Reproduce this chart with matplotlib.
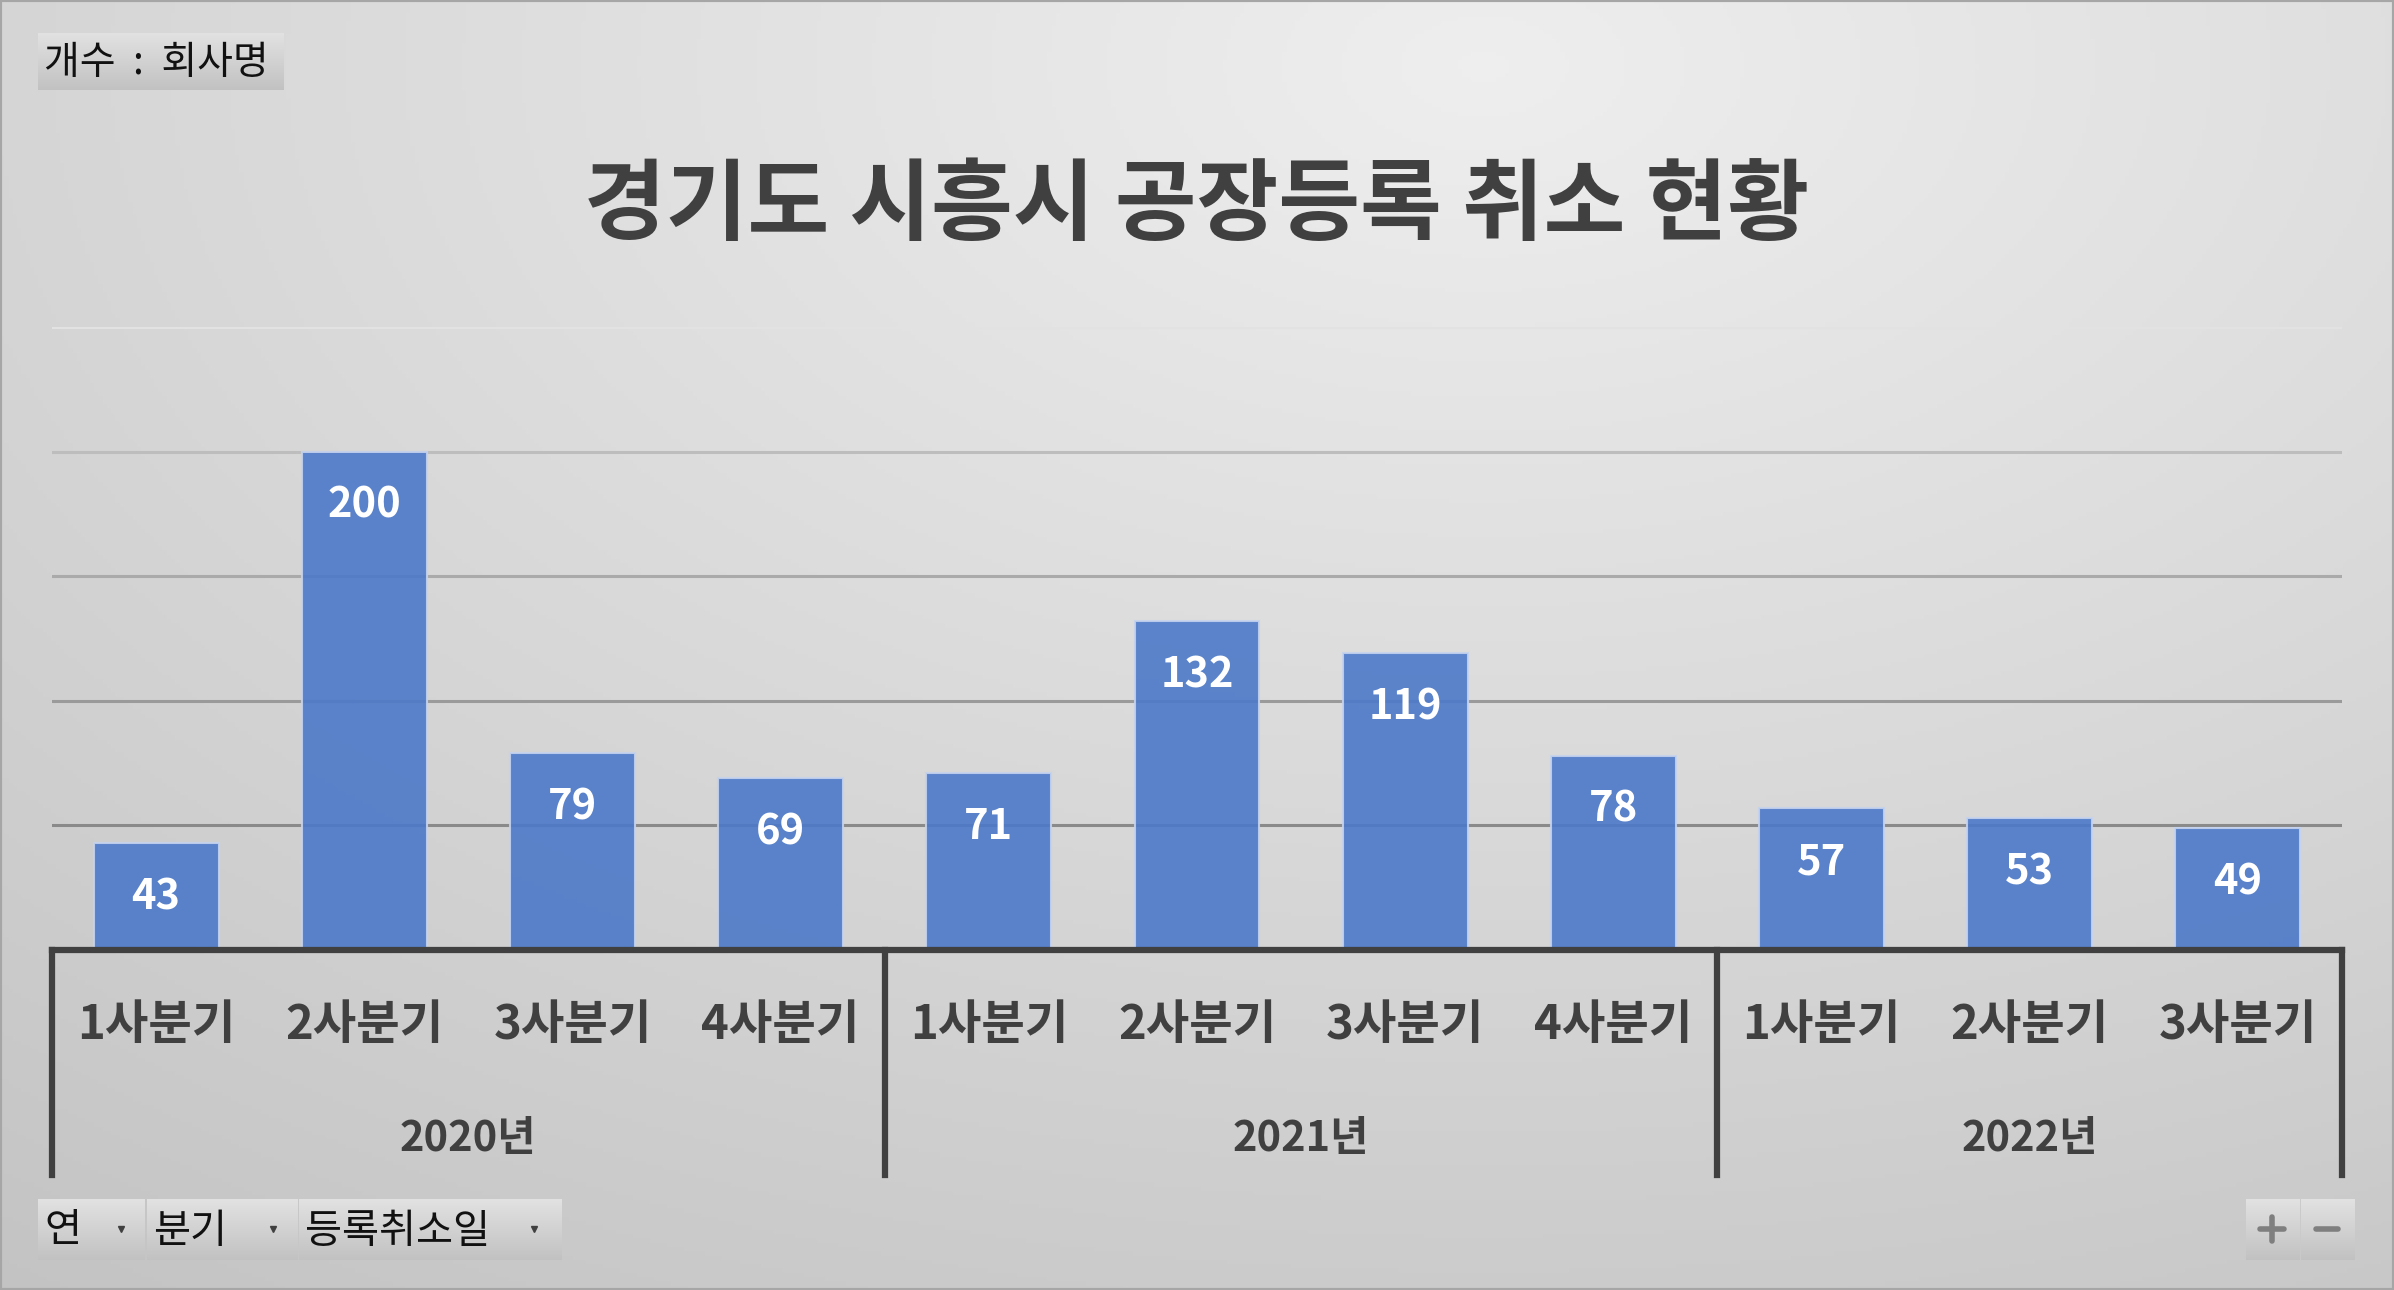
import numpy as np
import matplotlib
matplotlib.use("Agg")
import matplotlib.pyplot as plt
from matplotlib.patches import Rectangle
from matplotlib.lines import Line2D

plt.rcParams['font.family'] = ['Noto Sans CJK KR', 'DejaVu Sans']

# ---- data ----
years = ["2020년", "2021년", "2022년"]
quarters = ["1사분기", "2사분기", "3사분기", "4사분기",
            "1사분기", "2사분기", "3사분기", "4사분기",
            "1사분기", "2사분기", "3사분기"]
year_sizes = [4, 4, 3]
values = [43, 200, 79, 69, 71, 132, 119, 78, 57, 53, 49]
title = "경기도 시흥시 공장등록 취소 현황"
field_button = "개수 : 회사명"
axis_buttons = ["연", "분기", "등록취소일"]

W, H = 2394, 1290
DPI = 100
fig = plt.figure(figsize=(W / DPI, H / DPI), dpi=DPI)

def fx(x): return x / W
def fy(y): return 1 - y / H

# ---- background gradient ----
bg = fig.add_axes([0, 0, 1, 1], zorder=-10)
yy, xx = np.mgrid[0:1:300j, 0:1:560j]
d = np.sqrt(((xx - 0.62) * 1.0) ** 2 + ((yy - 0.05) * 0.9) ** 2)
v = 0.935 - 0.16 * np.clip(d, 0, 1.2)
v = np.clip(v, 0.76, 0.94)
bg.imshow(np.dstack([v, v, v]), aspect='auto', extent=[0, 1, 0, 1], origin='upper')
bg.add_patch(Rectangle((0, 0), 1, 1, transform=bg.transAxes, fill=False,
                       edgecolor='#a6a6a6', linewidth=3))
bg.set_xlim(0, 1); bg.set_ylim(0, 1)
bg.axis('off')

# ---- main axes ----
left, right = 52, 2342
bottom_px, top_px = 950, 327
ax = fig.add_axes([fx(left), fy(bottom_px), (right - left) / W, (bottom_px - top_px) / H])
ax.set_facecolor('none')
x = np.arange(len(values))
ax.set_xlim(-0.5, len(values) - 0.5)
ax.set_ylim(0, 250)

grid_colors = {50: '#8a8a8a', 100: '#9a9a9a', 150: '#aaaaaa', 200: '#bdbdbd', 250: '#e2e2e2'}
for g, c in grid_colors.items():
    ax.axhline(g, color=c, linewidth=2.2, zorder=1)

bars = ax.bar(x, values, width=0.6, color='#4c79c9', alpha=0.9,
              edgecolor='#c5d3ee', linewidth=1.5, zorder=2)
for xi, val in zip(x, values):
    ax.annotate(str(val), (xi, val), xytext=(0, -39), textcoords='offset points',
                ha='center', va='center', color='white', fontsize=30,
                fontweight='bold', zorder=5)

for s in ax.spines.values():
    s.set_visible(False)
ax.set_xticks([]); ax.set_yticks([])

# bottom axis line
ax.axhline(0, color='#404040', linewidth=4.5, zorder=4, clip_on=False)

trans = ax.get_xaxis_transform()
axis_h = bottom_px - top_px
def ay(py): return -(py - bottom_px) / axis_h

for xi, q in zip(x, quarters):
    ax.text(xi, ay(1025), q, transform=trans, ha='center', va='center',
            fontsize=34, fontweight='bold', color='#404040')

start = 0
sep_positions = [-0.5]
for yname, n in zip(years, year_sizes):
    center = start + (n - 1) / 2
    ax.text(center, ay(1139), yname, transform=trans, ha='center', va='center',
            fontsize=30, fontweight='bold', color='#404040')
    start += n
    sep_positions.append(start - 0.5)
for sp in sep_positions:
    ax.add_line(Line2D([sp, sp], [0, ay(1175)], transform=trans, color='#404040',
                       linewidth=4.5, clip_on=False, zorder=4))

# ---- title ----
fig.text(fx(1197), fy(207), title, ha='center', va='center', fontsize=64,
         fontweight='bold', color='#404040')

# ---- buttons ----
def button(x0, y0, x1, y1):
    bax = fig.add_axes([fx(x0), fy(y1), (x1 - x0) / W, (y1 - y0) / H], zorder=3)
    g = np.linspace(0.885, 0.76, 50)[:, None]
    bax.imshow(np.dstack([g, g, g]), aspect='auto', extent=[0, 1, 0, 1])
    bax.axis('off')
    return bax

button(38, 33, 284, 90)
fig.text(fx(44), fy(63), field_button.replace(" : ", "  :  "), ha='left', va='center',
         fontsize=28, color='#111111', zorder=5)

btns = [(38, 145, 121), (147, 298, 273), (299, 562, 534)]
for (x0, x1, tri), label in zip(btns, axis_buttons):
    button(x0, 1199, x1, 1260)
    fig.text(fx(x0 + 6), fy(1231), label, ha='left', va='center', fontsize=29,
             color='#111111', zorder=5)
    fig.add_artist(Line2D([fx(tri)], [fy(1229)], marker='v', markersize=5,
                          color='#404040', linestyle='none', zorder=6))

button(2246, 1199, 2300, 1260)
button(2301, 1199, 2355, 1260)
fig.add_artist(Line2D([fx(2260), fx(2284)], [fy(1229), fy(1229)], color='#7f7f7f',
                      linewidth=4, solid_capstyle='round', zorder=6))
fig.add_artist(Line2D([fx(2272), fx(2272)], [fy(1217), fy(1241)], color='#7f7f7f',
                      linewidth=4, solid_capstyle='round', zorder=6))
fig.add_artist(Line2D([fx(2316), fx(2338)], [fy(1229), fy(1229)], color='#7f7f7f',
                      linewidth=4, solid_capstyle='round', zorder=6))

fig.savefig("out.png", dpi=DPI)
